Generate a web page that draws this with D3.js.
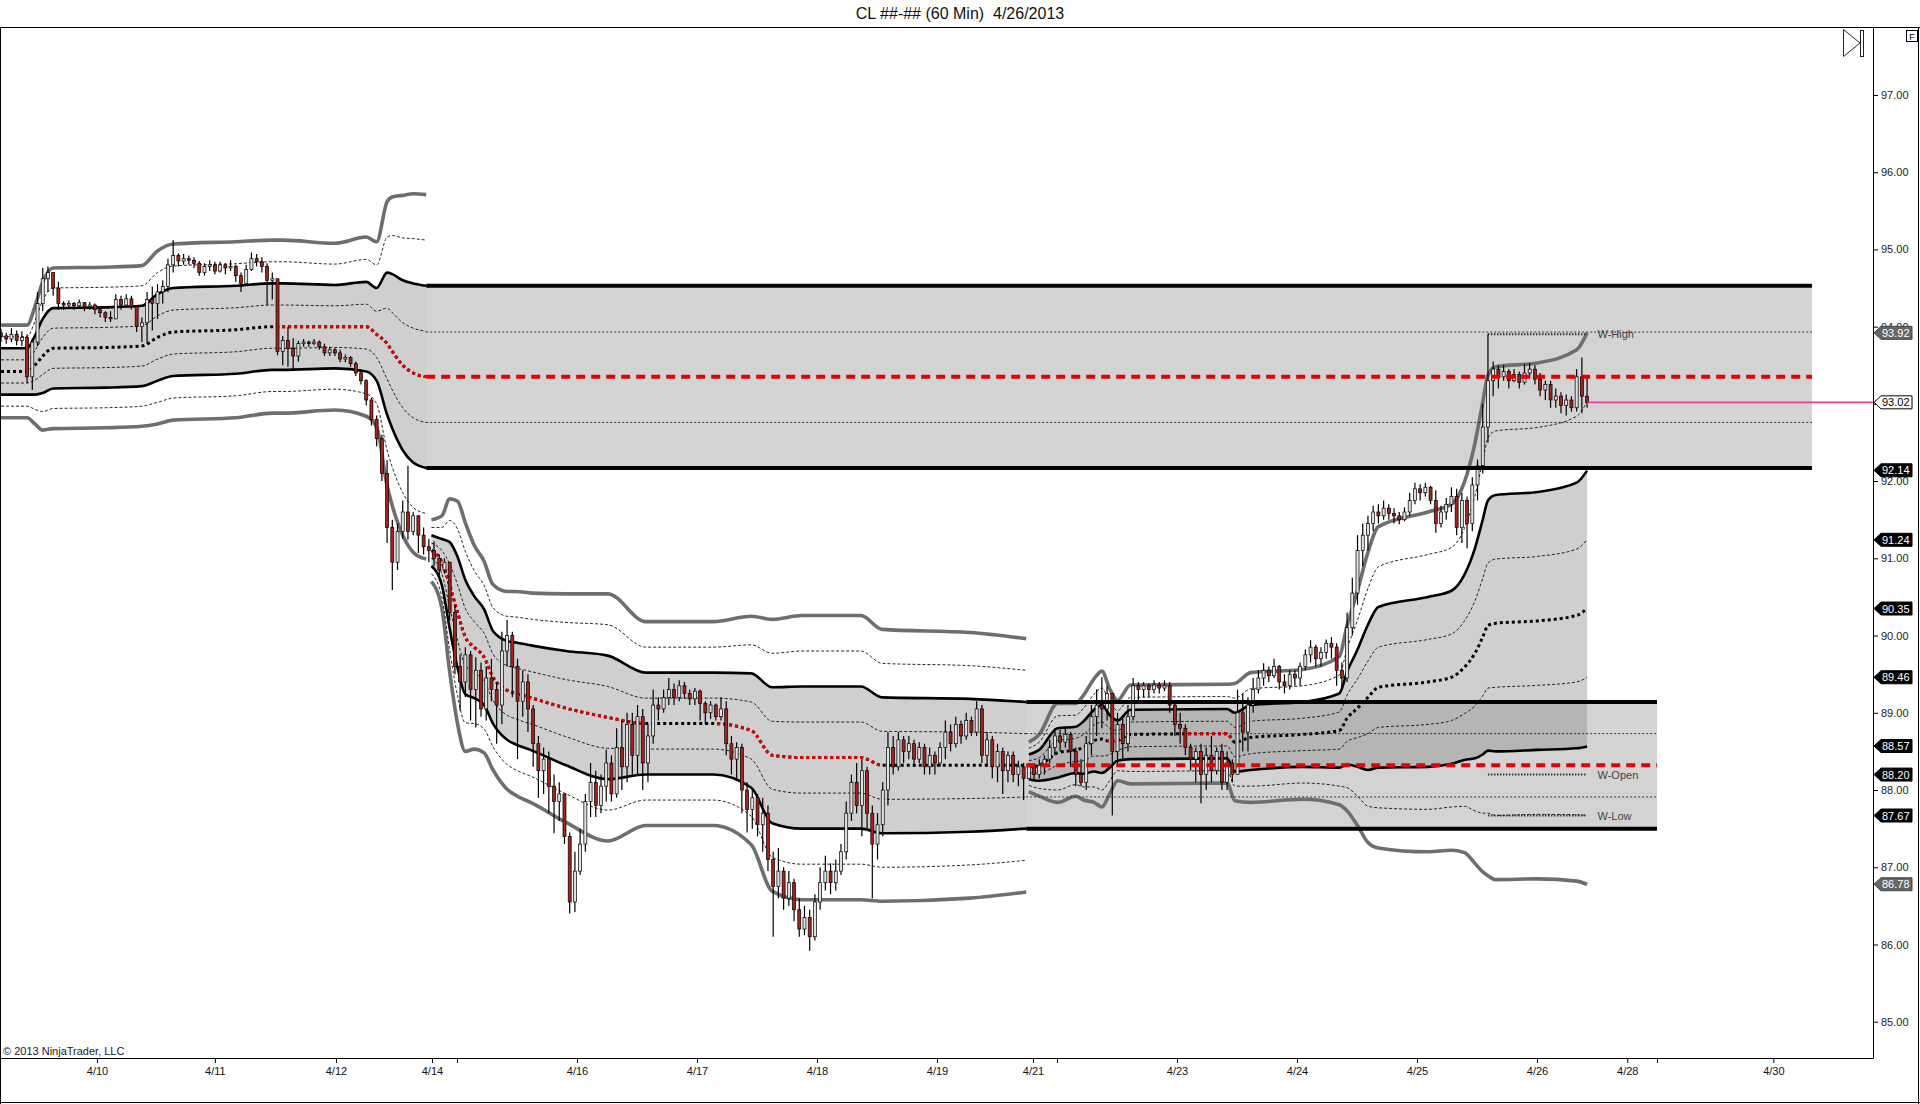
<!DOCTYPE html>
<html>
<head>
<meta charset="utf-8">
<title>CL 60 Min</title>
<script src="https://cdn.jsdelivr.net/npm/d3@7"></script>
<style>
  body { margin: 0; background: #fff; }
  text { font-family: "Liberation Sans", Arial, sans-serif; }
</style>
</head>
<body>
<div id="chart"></div>
<script>
'use strict';

// ---- candles, one per hourly slot (open = previous close) ----
var firstOpen = 93.92;

var w1Close = [
  93.88, 93.84, 93.90, 93.82, 93.86, 93.35, 93.80, 94.30, 94.62, 94.70,
  94.50, 94.30, 94.28, 94.30, 94.27, 94.31, 94.26, 94.28, 94.22, 94.18,
  94.12, 94.10, 94.35, 94.28, 94.36, 94.26, 94.00, 94.05, 94.35, 94.30,
  94.45, 94.52, 94.80, 94.92, 94.85, 94.88, 94.86, 94.82, 94.70, 94.78,
  94.80, 94.72, 94.80, 94.76, 94.78, 94.66, 94.56, 94.74, 94.88, 94.84,
  94.78, 94.60, 94.62, 93.68, 93.82, 93.72, 93.62, 93.78, 93.80, 93.78,
  93.80, 93.74, 93.66, 93.70, 93.66, 93.58, 93.60, 93.52, 93.40, 93.30,
  93.05, 92.80, 92.55, 92.10, 91.40, 90.95, 91.35, 91.60, 91.35, 91.55,
  91.30, 91.15
];
var w1High = [
  93.97, 93.92, 93.98, 93.95, 93.94, 93.90, 93.85, 94.45, 94.76, 94.78,
  94.65, 94.58, 94.33, 94.34, 94.32, 94.35, 94.32, 94.32, 94.30, 94.24,
  94.20, 94.20, 94.42, 94.40, 94.42, 94.40, 94.28, 94.12, 94.45, 94.52,
  94.55, 94.60, 94.88, 95.12, 94.95, 94.94, 94.92, 94.90, 94.85, 94.82,
  94.86, 94.84, 94.84, 94.82, 94.86, 94.80, 94.70, 94.80, 94.96, 94.94,
  94.90, 94.82, 94.70, 94.60, 93.88, 94.00, 93.85, 93.82, 93.84, 93.82,
  93.84, 93.82, 93.78, 93.74, 93.72, 93.70, 93.64, 93.62, 93.55, 93.45,
  93.32, 93.08, 92.85, 92.60, 92.27, 91.50, 91.45, 91.75, 92.20, 91.60,
  91.56, 91.40
];
var w1Low = [
  93.80, 93.78, 93.80, 93.76, 93.75, 93.27, 93.18, 93.75, 94.20, 94.45,
  94.40, 94.22, 94.22, 94.24, 94.22, 94.25, 94.20, 94.22, 94.16, 94.12,
  94.06, 94.06, 94.10, 94.22, 94.26, 94.22, 93.93, 93.80, 93.78, 93.95,
  94.10, 94.30, 94.45, 94.70, 94.78, 94.80, 94.80, 94.76, 94.66, 94.66,
  94.72, 94.68, 94.70, 94.68, 94.72, 94.58, 94.45, 94.55, 94.72, 94.78,
  94.70, 94.28, 94.35, 93.63, 93.50, 93.48, 93.45, 93.55, 93.74, 93.74,
  93.76, 93.70, 93.62, 93.62, 93.62, 93.54, 93.54, 93.48, 93.36, 93.25,
  92.98, 92.72, 92.45, 92.00, 91.20, 90.59, 90.85, 91.25, 91.24, 91.30,
  91.07, 91.05
];

var w2Close = [
  91.10, 91.00, 90.85, 90.95, 90.30, 89.60, 89.40, 89.75, 89.30, 89.55,
  89.05, 89.45, 89.30, 89.10, 89.80, 90.00, 89.60, 89.15, 89.40, 89.05,
  88.60, 88.25, 88.40, 88.05, 87.85, 87.95, 87.40, 86.55, 86.95, 87.30,
  87.85, 88.10, 87.80, 88.05, 88.35, 87.95, 88.55, 88.30, 88.85, 88.45,
  88.95, 88.35, 88.70, 89.10, 89.05, 89.20, 89.30, 89.20, 89.35, 89.25,
  89.18, 89.28, 89.12, 89.00, 89.10, 88.95, 89.05, 88.60, 88.40, 88.55,
  88.00, 87.75, 87.90, 87.55, 87.70, 87.10, 86.75, 86.95, 86.60, 86.80,
  86.45, 86.20, 86.35, 86.10, 86.55, 86.80, 86.95, 86.80, 86.95, 87.20,
  87.70, 88.10, 87.80, 88.25, 87.70, 87.30, 87.55, 88.00, 88.55, 88.30,
  88.65, 88.50, 88.60, 88.40, 88.55, 88.30, 88.45, 88.35, 88.55, 88.75,
  88.60, 88.85, 88.70, 88.90, 88.75, 89.05, 88.45, 88.65, 88.30, 88.50,
  88.25, 88.45, 88.20, 88.30, 88.15
];
var w2High = [
  91.25, 91.22, 91.05, 91.00, 90.95, 90.40, 89.75, 89.85, 89.80, 89.72,
  89.65, 89.60, 89.70, 89.40, 90.05, 90.20, 90.05, 89.70, 89.55, 89.50,
  89.10, 88.70, 88.55, 88.50, 88.20, 88.10, 87.95, 87.45, 87.20, 87.50,
  87.95, 88.35, 88.25, 88.20, 88.52, 88.45, 88.80, 88.90, 89.00, 89.00,
  89.10, 89.05, 88.85, 89.30, 89.20, 89.30, 89.45, 89.38, 89.42, 89.40,
  89.30, 89.32, 89.30, 89.15, 89.15, 89.12, 89.20, 89.15, 88.70, 88.62,
  88.60, 88.10, 88.00, 87.95, 87.90, 87.80, 87.20, 87.25, 87.00, 86.95,
  86.85, 86.60, 86.50, 86.45, 86.65, 87.00, 87.15, 87.05, 87.10, 87.30,
  87.85, 88.20, 88.35, 88.40, 88.30, 87.80, 87.70, 88.10, 88.75, 88.70,
  88.75, 88.70, 88.70, 88.65, 88.62, 88.60, 88.55, 88.50, 88.62, 88.90,
  88.85, 88.95, 88.90, 89.00, 88.95, 89.15, 89.10, 88.75, 88.70, 88.60,
  88.55, 88.50, 88.50, 88.38, 88.35
];
var w2Low = [
  90.95, 90.90, 90.78, 90.80, 90.20, 89.50, 89.03, 89.20, 88.90, 88.81,
  88.95, 88.90, 89.15, 88.60, 88.85, 89.60, 89.20, 88.40, 88.95, 88.75,
  88.30, 87.90, 87.95, 87.70, 87.44, 87.60, 87.30, 86.40, 86.42, 86.90,
  87.20, 87.65, 87.65, 87.70, 87.85, 87.85, 87.90, 88.00, 88.10, 88.20,
  88.20, 88.00, 88.10, 88.60, 88.90, 89.00, 89.10, 89.10, 89.15, 89.18,
  89.10, 89.10, 88.90, 88.85, 88.92, 88.90, 88.90, 88.45, 88.20, 88.15,
  87.70, 87.45, 87.50, 87.40, 87.20, 86.95, 86.10, 86.60, 86.45, 86.50,
  86.30, 86.10, 86.12, 85.92, 86.05, 86.45, 86.70, 86.65, 86.70, 86.90,
  87.10, 87.60, 87.70, 87.40, 87.50, 86.60, 87.10, 87.40, 87.80, 88.20,
  88.25, 88.35, 88.40, 88.30, 88.35, 88.20, 88.20, 88.20, 88.30, 88.40,
  88.50, 88.55, 88.60, 88.65, 88.70, 88.70, 88.35, 88.30, 88.15, 88.10,
  87.95, 88.10, 88.10, 88.05, 87.87
];

var w3Close = [
  88.30, 88.20, 88.32, 88.40, 88.55, 88.70, 88.62, 88.72, 88.50, 88.20,
  88.10, 88.60, 88.95, 89.10, 89.05, 89.25, 88.50, 88.85, 88.60, 88.95,
  89.35, 89.30, 89.35, 89.30, 89.36, 89.32, 89.35, 89.10, 88.85, 88.80,
  88.55, 88.40, 88.50, 88.20, 88.45, 88.25, 88.50, 88.10, 88.35, 88.20,
  89.00, 88.75, 89.10, 89.30, 89.45, 89.55, 89.48, 89.60, 89.40, 89.35,
  89.50, 89.45, 89.60, 89.75, 89.85, 89.70, 89.78, 89.90, 89.85, 89.55,
  89.45, 90.10, 90.55, 91.10, 91.30, 91.45, 91.60, 91.55, 91.65, 91.58,
  91.55, 91.50, 91.60, 91.75, 91.90, 91.85, 91.92, 91.75, 91.45, 91.60,
  91.70, 91.80, 91.40, 91.75, 91.45, 91.95, 92.20, 92.70, 93.30, 93.45,
  93.35, 93.42, 93.30, 93.38, 93.28, 93.40, 93.45, 93.32, 93.18, 93.25,
  93.05, 93.10, 92.98, 93.05, 92.95, 93.35, 93.10, 93.02
];
var w3High = [
  88.35, 88.35, 88.40, 88.45, 88.65, 88.80, 88.78, 88.82, 88.75, 88.55,
  88.40, 88.70, 89.10, 89.30, 89.46, 89.35, 89.20, 89.00, 88.95, 89.10,
  89.45, 89.40, 89.40, 89.38, 89.42, 89.40, 89.42, 89.40, 89.15, 89.00,
  88.85, 88.60, 88.55, 88.60, 88.55, 88.70, 88.55, 88.60, 88.50, 88.40,
  89.30, 89.25, 89.20, 89.45, 89.55, 89.64, 89.60, 89.70, 89.62, 89.50,
  89.55, 89.55, 89.65, 89.82, 89.94, 89.88, 89.85, 89.95, 89.98, 89.90,
  89.65, 90.30, 90.75, 91.30, 91.45, 91.55, 91.68, 91.70, 91.75, 91.70,
  91.65, 91.60, 91.66, 91.85, 91.98, 91.96, 91.98, 91.94, 91.88, 91.68,
  91.78, 91.92, 91.90, 91.85, 91.80, 92.05, 92.28, 93.00, 93.90, 93.55,
  93.50, 93.50, 93.45, 93.45, 93.42, 93.52, 93.53, 93.50, 93.40, 93.30,
  93.30, 93.20, 93.15, 93.12, 93.10, 93.45, 93.60, 93.35
];
var w3Low = [
  88.15, 88.12, 88.15, 88.20, 88.35, 88.45, 88.50, 88.55, 88.30, 88.05,
  88.05, 88.00, 88.45, 88.70, 88.80, 88.90, 87.67, 88.30, 88.40, 88.50,
  88.90, 89.15, 89.20, 89.20, 89.25, 89.25, 89.28, 89.00, 88.70, 88.60,
  88.45, 88.25, 88.10, 87.83, 88.00, 88.10, 88.20, 88.00, 88.00, 88.10,
  88.20, 88.50, 88.50, 89.00, 89.25, 89.35, 89.40, 89.45, 89.30, 89.25,
  89.30, 89.35, 89.35, 89.55, 89.65, 89.60, 89.60, 89.70, 89.70, 89.35,
  89.30, 89.40, 90.00, 90.40, 90.90, 91.10, 91.35, 91.45, 91.50, 91.50,
  91.45, 91.44, 91.48, 91.55, 91.70, 91.75, 91.80, 91.70, 91.33, 91.40,
  91.50, 91.60, 91.30, 91.20, 91.13, 91.35, 91.75, 92.10, 92.50, 93.10,
  93.20, 93.30, 93.20, 93.28, 93.20, 93.25, 93.35, 93.25, 93.10, 93.05,
  92.95, 92.95, 92.88, 92.85, 92.90, 92.90, 92.88, 92.95
];

// ---- weekly developing centre line and its deviation, read at knots ----
var w1Slot   = [0, 5, 6.5, 8, 10, 20, 27, 30, 33, 45, 52, 54, 64, 70, 72, 74, 75, 77, 79, 81.5];
var w1Center = [93.42, 93.42, 93.50, 93.62, 93.72, 93.73, 93.75, 93.86, 93.93, 93.96,
                94.00, 94.00, 94.00, 94.00, 93.90, 93.78, 93.68, 93.50, 93.40, 93.35];
var w1Sigma  = [0.15, 0.15, 0.19, 0.24, 0.26, 0.26, 0.26, 0.28, 0.285, 0.285,
                0.28, 0.28, 0.27, 0.29, 0.30, 0.46, 0.50, 0.55, 0.58, 0.59];

var w2Slot   = [82.5, 84.5, 86, 87.5, 89, 90.7, 92.6, 94.3, 97, 98.7, 101.8,
                108.3, 116.3, 123.6, 136.5, 143.8, 147.8, 153.5, 164.8, 168.9, 185.7, 196.5];
var w2Center = [91.10, 90.95, 90.65, 90.30, 89.98, 89.85, 89.72, 89.46, 89.29, 89.25, 89.19,
                89.06, 88.94, 88.86, 88.86, 88.77, 88.45, 88.42, 88.42, 88.32, 88.32, 88.32];
var w2Sigma  = [0.10, 0.15, 0.28, 0.36, 0.37, 0.33, 0.31, 0.30, 0.32, 0.33, 0.34,
                0.37, 0.40, 0.33, 0.33, 0.37, 0.44, 0.46, 0.46, 0.44, 0.43, 0.41];

var w3Slot   = [197, 199, 202.5, 206, 207.5, 209.5, 211, 212.5, 214, 216.5, 235, 236.5, 239.5,
                249.5, 256.5, 258, 260, 262, 264, 273.5, 278, 280.5, 282.5, 284, 285, 286.5,
                294.5, 302, 304];
var w3Center = [88.30, 88.32, 88.48, 88.52, 88.55, 88.64, 88.66, 88.63, 88.64, 88.72, 88.73, 88.62, 88.68,
                88.72, 88.77, 88.93, 89.06, 89.20, 89.33, 89.40, 89.46, 89.59, 89.77, 89.98, 90.13, 90.16,
                90.19, 90.26, 90.35];
var w3Sigma  = [0.08, 0.10, 0.16, 0.15, 0.17, 0.20, 0.22, 0.17, 0.13, 0.16, 0.16, 0.19, 0.21,
                0.21, 0.24, 0.30, 0.38, 0.47, 0.52, 0.55, 0.56, 0.60, 0.68, 0.76, 0.81, 0.83,
                0.835, 0.86, 0.893];

// stretches where the centre line is drawn red
var centerRedFrom = [53.3, 82.5, 137, 212, 226.5];
var centerRedTo   = [81.5, 123.5, 169, 213.5, 236];

// ---- prior-week value boxes ----
var boxFrom     = [81.5, 196.5];
var boxTo       = [347.1, 317.4];
var boxTop      = [94.53, 89.14];
var boxBottom   = [92.17, 87.50];
var boxMid      = [93.35, 88.32];
var boxInnerHi  = [93.93, 88.73];
var boxInnerLo  = [92.76, 87.91];

// ---- weekly reference levels ----
var wNames  = ['W-High', 'W-Open', 'W-Low'];
var wLevels = [93.90, 88.20, 87.67];
var wFrom = 285, wTo = 304, wLabelSlot = 306;

// ---- axis tags on the price scale ----
var tagValues = [93.92, 92.14, 91.24, 90.35, 89.46, 88.57, 88.20, 87.67, 86.78];
var tagGrey   = [true, false, false, false, false, false, false, false, true];

// ---- axes ----
var priceTicks = [85, 86, 87, 88, 89, 90, 91, 92, 93, 94, 95, 96, 97];
var dateSlots  = [18.4, 41.0, 64.2, 82.6, 87.4, 110.4, 133.4, 156.4, 179.4, 197.8,
                  202.4, 225.4, 248.4, 271.4, 294.4, 311.7, 317.4, 339.7];
var dateLabels = ['4/10', '4/11', '4/12', '4/14', '', '4/16', '4/17', '4/18', '4/19', '4/21',
                  '', '4/23', '4/24', '4/25', '4/26', '4/28', '', '4/30'];

var chartTitle = 'CL ##-## (60 Min)  4/26/2013';

drawChart();

function drawChart() {

    var svgWidth = 1920, svgHeight = 1104;
    var plotLeft = 1, plotRight = 1873, plotTop = 27, plotBottom = 1058;

    var closes = w1Close.concat(w2Close, w3Close);
    var highs = w1High.concat(w2High, w3High);
    var lows = w1Low.concat(w2Low, w3Low);
    var bars = closes.map(function (c, i) {
        return { slot: i, open: i > 0 ? closes[i - 1] : firstOpen, high: highs[i], low: lows[i], close: c };
    });
    var lastBar = bars[bars.length - 1];

    var x = d3.scaleLinear().domain([0, 358.8]).range([plotLeft, plotRight]);
    var y = d3.scaleLinear().domain([84.53, 97.88]).range([plotBottom, plotTop]);
    var fmt = d3.format('.2f');

    var svg = d3.select('#chart')
        .append('svg')
        .attr('width', svgWidth)
        .attr('height', svgHeight);

    svg.append('rect').attr('width', svgWidth).attr('height', svgHeight).attr('fill', '#fff');

    var defs = svg.append('defs');
    defs.append('clipPath').attr('id', 'plotClip')
        .append('rect')
        .attr('x', plotLeft).attr('y', plotTop)
        .attr('width', plotRight - plotLeft).attr('height', plotBottom - plotTop);

    defs.append('clipPath').attr('id', 'redClip')
        .selectAll('rect')
        .data(centerRedFrom)
        .enter().append('rect')
        .attr('x', function (d) { return x(d); })
        .attr('width', function (d, i) { return x(centerRedTo[i]) - x(d); })
        .attr('y', plotTop)
        .attr('height', plotBottom - plotTop);

    var plot = svg.append('g').attr('clip-path', 'url(#plotClip)');

    // box fills
    var boxes = boxFrom.map(function (f, i) {
        return { from: f, to: boxTo[i], top: boxTop[i], bottom: boxBottom[i],
                 mid: boxMid[i], hi: boxInnerHi[i], lo: boxInnerLo[i] };
    });
    plot.append('g').selectAll('rect')
        .data(boxes)
        .enter().append('rect')
        .attr('x', function (d) { return x(d.from); })
        .attr('width', function (d) { return x(d.to) - x(d.from); })
        .attr('y', function (d) { return y(d.top); })
        .attr('height', function (d) { return y(d.bottom) - y(d.top); })
        .attr('fill', 'rgb(150,150,150)')
        .attr('fill-opacity', 0.42);

    // developing bands
    var weeks = [
        { slot: w1Slot, center: w1Center, sigma: w1Sigma },
        { slot: w2Slot, center: w2Center, sigma: w2Sigma },
        { slot: w3Slot, center: w3Center, sigma: w3Sigma }
    ];
    var bandStyles = [
        { k: 4, color: '#6e6e6e', width: 3.6, dash: null },
        { k: 3, color: '#111', width: 0.9, dash: '3,2' },
        { k: 2, color: '#000', width: 2.6, dash: null },
        { k: 1, color: '#111', width: 0.9, dash: '3,2' }
    ];
    var bandG = plot.append('g');

    weeks.forEach(function (w) {
        var pts = w.slot.map(function (s, i) {
            return { s: s, c: w.center[i], sd: w.sigma[i] };
        });

        var area = d3.area()
            .curve(d3.curveMonotoneX)
            .x(function (d) { return x(d.s); })
            .y0(function (d) { return y(d.c - 2 * d.sd); })
            .y1(function (d) { return y(d.c + 2 * d.sd); });
        bandG.append('path')
            .datum(pts)
            .attr('d', area)
            .attr('fill', 'rgb(140,140,140)')
            .attr('fill-opacity', 0.42);

        bandStyles.forEach(function (st) {
            [1, -1].forEach(function (sign) {
                var line = d3.line()
                    .curve(d3.curveMonotoneX)
                    .x(function (d) { return x(d.s); })
                    .y(function (d) { return y(d.c + sign * st.k * d.sd); });
                bandG.append('path')
                    .datum(pts)
                    .attr('d', line)
                    .attr('fill', 'none')
                    .attr('stroke', st.color)
                    .attr('stroke-width', st.width)
                    .attr('stroke-dasharray', st.dash)
                    .attr('stroke-linejoin', 'round');
            });
        });

        var centerLine = d3.line()
            .curve(d3.curveMonotoneX)
            .x(function (d) { return x(d.s); })
            .y(function (d) { return y(d.c); });
        bandG.append('path')
            .datum(pts)
            .attr('d', centerLine)
            .attr('fill', 'none')
            .attr('stroke', '#000')
            .attr('stroke-width', 3)
            .attr('stroke-dasharray', '3,3');
        bandG.append('path')
            .datum(pts)
            .attr('d', centerLine)
            .attr('fill', 'none')
            .attr('stroke', '#e60000')
            .attr('stroke-width', 3)
            .attr('stroke-dasharray', '3,3')
            .attr('clip-path', 'url(#redClip)');
    });

    // weekly high / open / low
    var wG = plot.append('g');
    wLevels.forEach(function (lv, i) {
        wG.append('line')
            .attr('x1', x(wFrom)).attr('x2', x(wTo))
            .attr('y1', y(lv)).attr('y2', y(lv))
            .attr('stroke', '#333')
            .attr('stroke-width', 2)
            .attr('stroke-dasharray', '1.5,1.5');
        wG.append('text')
            .attr('x', x(wLabelSlot))
            .attr('y', y(lv) + 4)
            .attr('font-size', 11)
            .attr('fill', '#444')
            .text(wNames[i]);
    });

    // candles
    var candleG = plot.append('g');
    candleG.selectAll('line')
        .data(bars)
        .enter().append('line')
        .attr('x1', function (d) { return x(d.slot); })
        .attr('x2', function (d) { return x(d.slot); })
        .attr('y1', function (d) { return y(d.high); })
        .attr('y2', function (d) { return y(d.low); })
        .attr('stroke', '#000')
        .attr('stroke-width', 1.2);
    candleG.selectAll('rect')
        .data(bars)
        .enter().append('rect')
        .attr('x', function (d) { return x(d.slot) - 1.5; })
        .attr('width', 3)
        .attr('y', function (d) { return y(Math.max(d.open, d.close)); })
        .attr('height', function (d) { return Math.max(1, Math.abs(y(d.open) - y(d.close))); })
        .attr('fill', function (d) { return d.close < d.open ? '#a3221c' : '#e0e0e0'; })
        .attr('stroke', '#000')
        .attr('stroke-width', 0.7);

    // box lines (on top of candles)
    var boxG = plot.append('g');
    boxes.forEach(function (b) {
        [b.top, b.bottom].forEach(function (v) {
            boxG.append('line')
                .attr('x1', x(b.from)).attr('x2', x(b.to))
                .attr('y1', y(v)).attr('y2', y(v))
                .attr('stroke', '#000').attr('stroke-width', 4);
        });
        [b.hi, b.lo].forEach(function (v) {
            boxG.append('line')
                .attr('x1', x(b.from)).attr('x2', x(b.to))
                .attr('y1', y(v)).attr('y2', y(v))
                .attr('stroke', '#222').attr('stroke-width', 0.9)
                .attr('stroke-dasharray', '2,2');
        });
        boxG.append('line')
            .attr('x1', x(b.from)).attr('x2', x(b.to))
            .attr('y1', y(b.mid)).attr('y2', y(b.mid))
            .attr('stroke', '#e60000').attr('stroke-width', 4)
            .attr('stroke-dasharray', '9,6');
    });

    // last price line
    plot.append('line')
        .attr('x1', x(lastBar.slot)).attr('x2', plotRight)
        .attr('y1', y(lastBar.close)).attr('y2', y(lastBar.close))
        .attr('stroke', '#e8409c').attr('stroke-width', 1.6);

    // price axis
    var yAxis = d3.axisRight(y)
        .tickValues(priceTicks)
        .tickFormat(fmt)
        .tickSize(5)
        .tickSizeOuter(0)
        .tickPadding(3);
    var yAxisG = svg.append('g')
        .attr('transform', 'translate(' + plotRight + ',0)')
        .call(yAxis);
    yAxisG.select('.domain').attr('stroke', '#000');
    yAxisG.selectAll('.tick text').attr('font-size', 11).attr('fill', '#222')
        .attr('font-family', '"Liberation Sans", Arial, sans-serif');

    // tags
    var tagG = svg.append('g');
    function drawTag(value, fill, stroke, textColor) {
        var ty = y(value);
        tagG.append('path')
            .attr('d', 'M' + (plotRight + 1) + ',' + ty + 'l7,-6.5h31v13h-31z')
            .attr('fill', fill)
            .attr('stroke', stroke)
            .attr('stroke-width', 1);
        tagG.append('text')
            .attr('x', plotRight + 9)
            .attr('y', ty + 4)
            .attr('font-size', 11)
            .attr('fill', textColor)
            .text(fmt(value));
    }
    tagValues.forEach(function (v, i) {
        drawTag(v, tagGrey[i] ? '#666' : '#000', tagGrey[i] ? '#444' : '#000', '#fff');
    });
    drawTag(lastBar.close, '#fff', '#000', '#000');

    // date axis
    var xAxis = d3.axisBottom(x)
        .tickValues(dateSlots)
        .tickFormat(function (d, i) { return dateLabels[i]; })
        .tickSize(5)
        .tickSizeOuter(0)
        .tickPadding(4);
    var xAxisG = svg.append('g')
        .attr('transform', 'translate(0,' + plotBottom + ')')
        .call(xAxis);
    xAxisG.select('.domain').attr('d', 'M0,0.5H' + plotRight).attr('stroke', '#000');
    xAxisG.selectAll('.tick text').attr('font-size', 11).attr('fill', '#111')
        .attr('font-family', '"Liberation Sans", Arial, sans-serif');

    // frame
    var frame = svg.append('g').attr('fill', 'none').attr('stroke', '#000').attr('stroke-width', 1);
    frame.append('line').attr('x1', 0).attr('x2', svgWidth).attr('y1', plotTop + 0.5).attr('y2', plotTop + 0.5);
    frame.append('line').attr('x1', 0.5).attr('x2', 0.5).attr('y1', plotTop).attr('y2', svgHeight);
    frame.append('line').attr('x1', svgWidth - 1.5).attr('x2', svgWidth - 1.5).attr('y1', plotTop).attr('y2', svgHeight);
    frame.append('line').attr('x1', 0).attr('x2', svgWidth).attr('y1', svgHeight - 1.5).attr('y2', svgHeight - 1.5);

    // title
    svg.append('text')
        .attr('x', svgWidth / 2)
        .attr('y', 19)
        .attr('text-anchor', 'middle')
        .attr('font-size', 16)
        .attr('fill', '#111')
        .attr('xml:space', 'preserve')
        .style('white-space', 'pre')
        .text(chartTitle);

    svg.append('text')
        .attr('x', 3)
        .attr('y', 1055)
        .attr('font-size', 11)
        .attr('fill', '#222')
        .text('\u00a9 2013 NinjaTrader, LLC');

    // scroll-to-end button and F box
    svg.append('path')
        .attr('d', 'M1843.5,29.5L1860,43L1843.5,56.5Z')
        .attr('fill', '#fff').attr('stroke', '#222');
    svg.append('rect')
        .attr('x', 1860.5).attr('y', 30.5).attr('width', 3).attr('height', 26)
        .attr('fill', '#fff').attr('stroke', '#222');
    svg.append('rect')
        .attr('x', 1906.5).attr('y', 30.5).attr('width', 11).attr('height', 11)
        .attr('fill', '#fff').attr('stroke', '#000');
    svg.append('text')
        .attr('x', 1912).attr('y', 39.5)
        .attr('text-anchor', 'middle')
        .attr('font-size', 9)
        .attr('fill', '#000')
        .text('F');
}
</script>
</body>
</html>
